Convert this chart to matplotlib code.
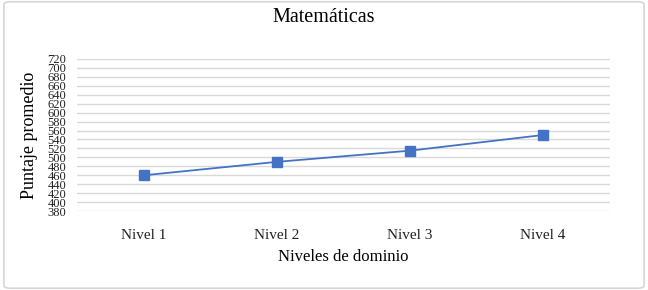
import matplotlib.pyplot as plt
from matplotlib.patches import FancyBboxPatch

niveles = ["Nivel 1", "Nivel 2", "Nivel 3", "Nivel 4"]
puntajes = [460, 490, 515, 550]
yticks = list(range(380, 721, 20))

plt.rcParams['font.family'] = ['Liberation Serif', 'DejaVu Serif']

fig = plt.figure(figsize=(6.48, 2.9), dpi=100)
ax = fig.add_axes([0.119, 0.272, 0.822, 0.525])

x = list(range(len(niveles)))
ax.plot(x, puntajes, color="#4472C4", linewidth=1.3, marker="s",
        markersize=6.5, markerfacecolor="#4472C4", markeredgecolor="#4472C4", zorder=3)

ax.set_xlim(-0.5, len(niveles) - 0.5)
ax.set_ylim(380, 720)
ax.set_yticks(yticks)
ax.set_yticklabels([str(v) for v in yticks], fontsize=9)
ax.set_xticks(x)
ax.set_xticklabels(niveles, fontsize=11)
ax.tick_params(axis="both", length=0, colors="#222222")
ax.tick_params(axis="y", pad=8)
ax.tick_params(axis="x", pad=13)
ax.grid(axis="y", color="#d9d9d9", linewidth=1)
ax.set_axisbelow(True)
for s in ax.spines.values():
    s.set_visible(False)

ax.set_ylabel("Puntaje promedio", fontsize=13)
ax.yaxis.set_label_coords(-0.073, 0.5)
ax.set_xlabel("Niveles de dominio", fontsize=12, labelpad=5)
fig.text(0.5, 0.94, "Matemáticas", ha="center", va="center", fontsize=14.5)

borde = FancyBboxPatch((0.006, 0.006), 0.988, 0.988, boxstyle="round,pad=0,rounding_size=0.01",
                       transform=fig.transFigure, fill=False, edgecolor="#d6d6d6", linewidth=1.2)
fig.patches.append(borde)

fig.savefig("out.png", dpi=100)
